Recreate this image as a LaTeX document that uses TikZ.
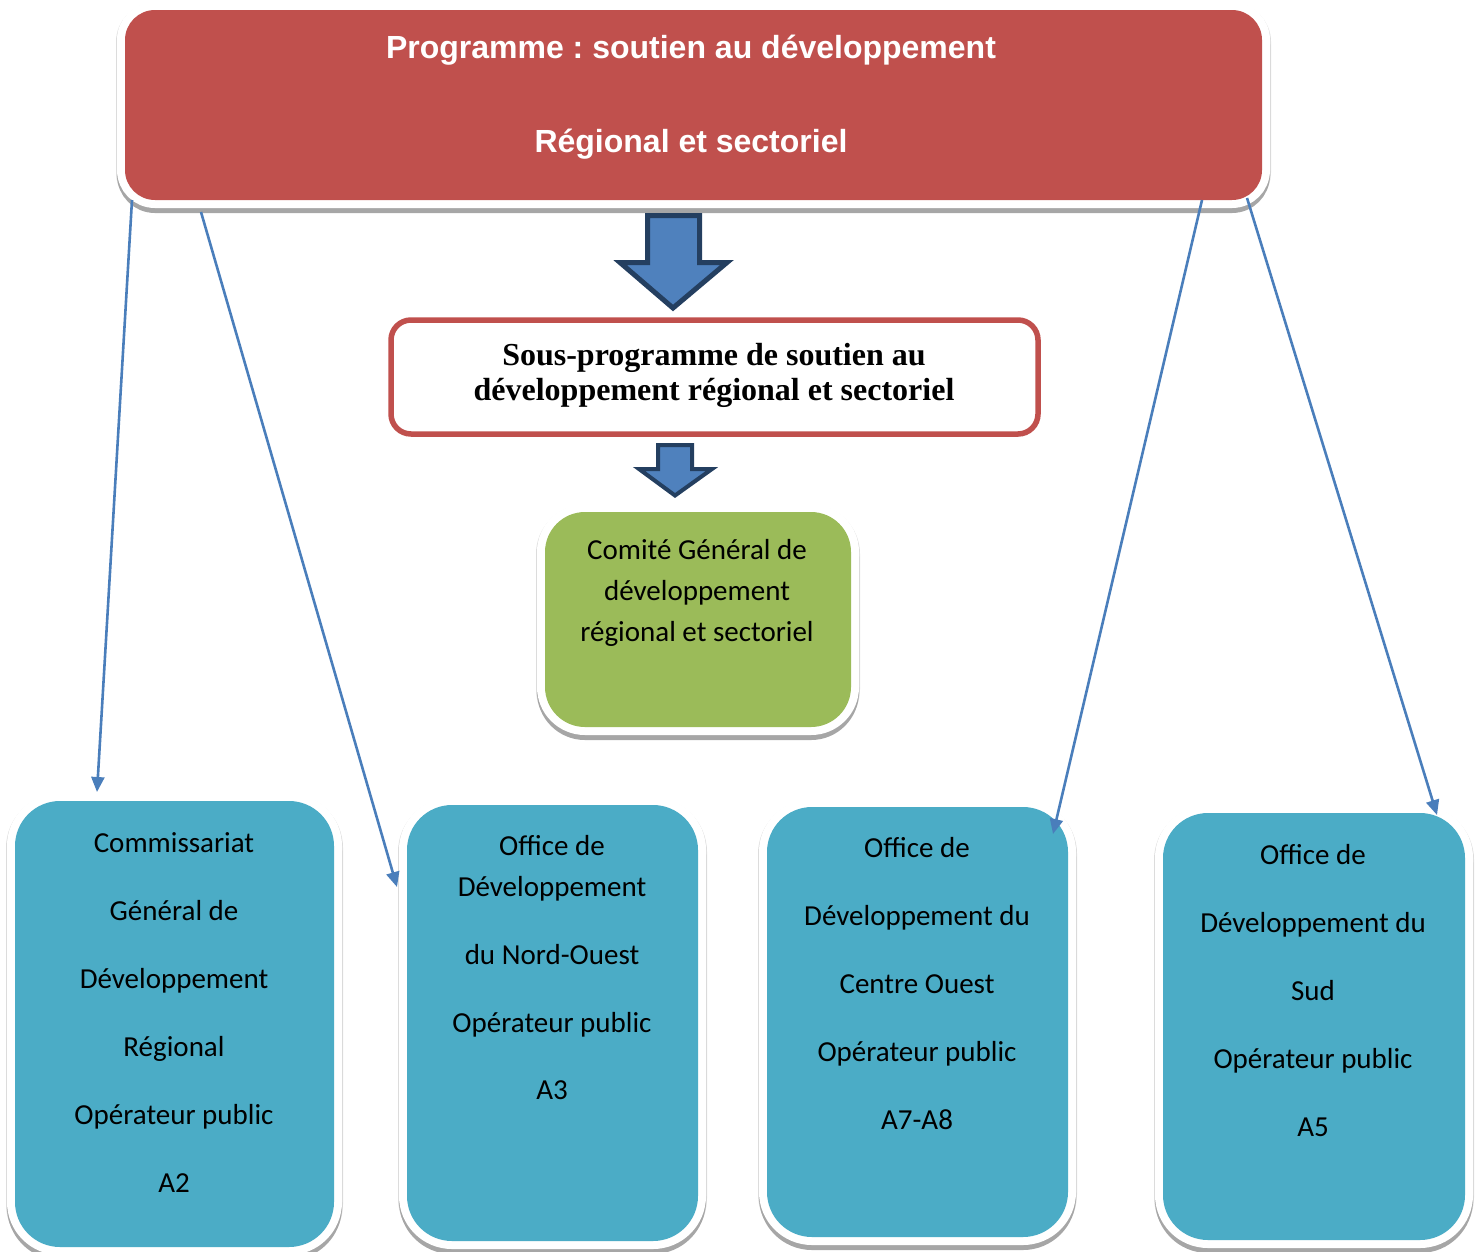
\documentclass[tikz,border=0pt]{standalone}
\usepackage{fontspec}
\usetikzlibrary{arrows.meta}
\newfontfamily\calibrif{Carlito}
\newfontfamily\arialf{Liberation Sans}
\newfontfamily\timesf{Liberation Serif}
\definecolor{progred}{HTML}{C0504D}
\definecolor{opblue}{HTML}{4BACC6}
\definecolor{comgreen}{HTML}{9BBB59}
\definecolor{arrowfill}{HTML}{4F81BD}
\definecolor{arrowedge}{HTML}{243F60}
\definecolor{linkblue}{HTML}{4A7EBB}
\definecolor{shadowgray}{HTML}{A6A6A6}
\definecolor{rimgray}{HTML}{DCDCDC}
\frenchspacing

\begin{document}
\begin{tikzpicture}[x=1pt,y=-1pt,
  % filled box with a white rim and a soft shadow underneath
  bevel/.style={draw=none, fill=#1, inner sep=0pt,
    preaction={draw=rimgray, line width=18pt, transform canvas={yshift=-2pt}},
    preaction={draw=shadowgray, fill=shadowgray, line width=16pt, transform canvas={yshift=-5pt}},
    preaction={draw=white, line width=16pt}},
  titletext/.style={anchor=base, inner sep=0pt, text=white,
    font=\arialf\bfseries\fontsize{32}{38}\selectfont},
  subtext/.style={anchor=base, inner sep=0pt,
    font=\timesf\bfseries\fontsize{32}{36}\selectfont},
  optext/.style={anchor=base, inner sep=0pt,
    font=\calibrif\fontsize{29}{35}\selectfont},
  blockarrow/.style={draw=arrowedge, fill=arrowfill, line join=miter},
  link/.style={draw=linkblue, line width=2.6pt,
    -{Triangle[length=15pt,width=13pt]}}
]
\useasboundingbox (0,0) rectangle (1477,1251);

% programme header
\node[bevel=progred, rounded corners=30pt, minimum width=1137pt, minimum height=190pt]
  (prog) at (693.5,105) {};
\node[titletext] (prog-l1) at (691,58) {Programme : soutien au développement};
\node[titletext] (prog-l2) at (691,152) {Régional et sectoriel};

% sub-programme
\node[draw=progred, line width=5.5pt, fill=white, rounded corners=20pt,
  minimum width=647pt, minimum height=114pt, inner sep=0pt] (sous) at (714.5,377) {};
\node[subtext] (sous-l1) at (714,365) {Sous-programme de soutien au};
\node[subtext] (sous-l2) at (714,400) {développement régional et sectoriel};

% general committee
\node[bevel=comgreen, rounded corners=40pt, minimum width=306pt, minimum height=215pt]
  (comite) at (698,619.5) {};
\foreach \ln [count=\k from 0] in {Comité Général de, développement, régional et sectoriel}
  \node[optext] (comite-\k) at (697,{559+41*\k}) {\ln};

% block arrows between the levels
\draw[blockarrow, line width=5pt] (647.5,215.5) -- (699.5,215.5) -- (699.5,262.5)
  -- (727,262.5) -- (673,308) -- (620,262.5) -- (647.5,262.5) -- cycle;
\draw[blockarrow, line width=4pt] (658,445) -- (692,445) -- (692,469)
  -- (712,469) -- (675,495.5) -- (639,469) -- (658,469) -- cycle;

% public operators
\node[bevel=opblue, rounded corners=45pt, minimum width=319pt, minimum height=446pt]
  (cgdr) at (174.5,1024) {};
\node[bevel=opblue, rounded corners=45pt, minimum width=291pt, minimum height=436pt]
  (odno) at (552.5,1023) {};
\node[bevel=opblue, rounded corners=45pt, minimum width=301pt, minimum height=430pt]
  (odco) at (917.5,1022) {};
\node[bevel=opblue, rounded corners=45pt, minimum width=302pt, minimum height=427pt]
  (ods) at (1314,1026.5) {};

\foreach \ln [count=\k from 0] in {Commissariat, Général de, Développement, Régional, Opérateur public, A2}
  \node[optext] (cgdr-\k) at (174,{852+68*\k}) {\ln};
\foreach \yy/\ln [count=\k from 0] in {855/Office de, 896/Développement, 964/du Nord-Ouest, 1032/Opérateur public, 1099/A3}
  \node[optext] (odno-\k) at (552,\yy) {\ln};
\foreach \ln [count=\k from 0] in {Office de, Développement du, Centre Ouest, Opérateur public, A7-A8}
  \node[optext] (odco-\k) at (917,{857+68*\k}) {\ln};
\foreach \ln [count=\k from 0] in {Office de, Développement du, Sud, Opérateur public, A5}
  \node[optext] (ods-\k) at (1313,{864+68*\k}) {\ln};

% links from the programme to the operators
\coordinate (s1) at (132,200);
\coordinate (s2) at (201,212);
\coordinate (s3) at (1202,200);
\coordinate (s4) at (1247,198);
\coordinate (e1) at (97,792);
\coordinate (e2) at (397,887);
\coordinate (e3) at (1053,834);
\coordinate (e4) at (1437,815);
\draw[link] (s1) -- (e1);
\draw[link] (s2) -- (e2);
\draw[link] (s3) -- (e3);
\draw[link] (s4) -- (e4);
\end{tikzpicture}
\end{document}
